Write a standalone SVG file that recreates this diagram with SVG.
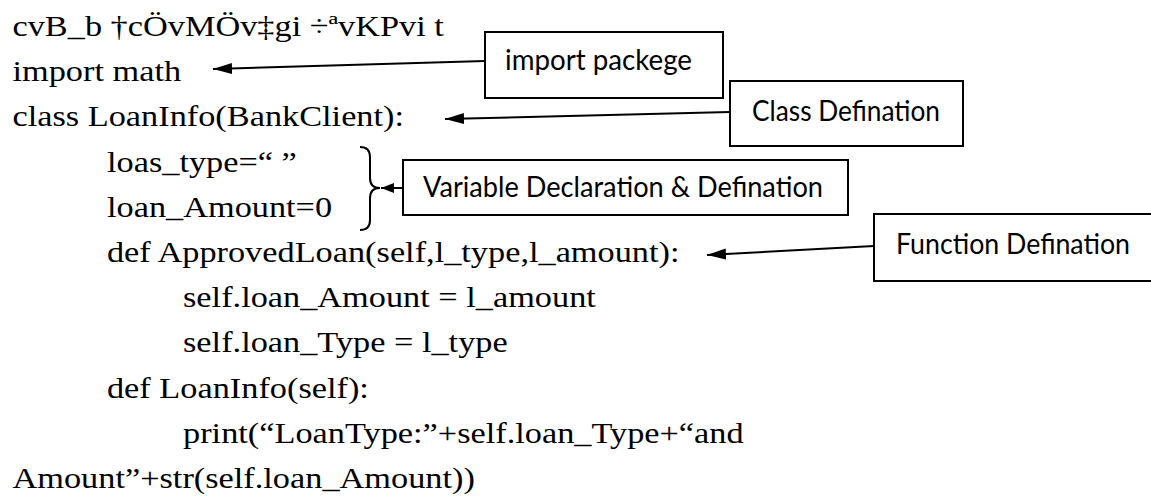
<svg xmlns="http://www.w3.org/2000/svg" width="1151" height="503" viewBox="0 0 1151 503">
<style>
.code{font-family:"Liberation Serif","Times New Roman",serif;font-size:30.5px;fill:#000}
.lbl{font-family:Lato,"Liberation Sans",sans-serif;font-size:29px;fill:#000}
.box{fill:#fff;stroke:#000;stroke-width:2}
.con{fill:none;stroke:#000;stroke-width:2}
</style>
<defs>
<marker id="ah" markerUnits="userSpaceOnUse" markerWidth="20" markerHeight="12" refX="19" refY="5.5" orient="auto">
<path d="M0,0 L19,5.5 L0,11 z" fill="#000"/>
</marker>
<marker id="ahs" markerUnits="userSpaceOnUse" markerWidth="14" markerHeight="12" refX="13" refY="5" orient="auto">
<path d="M0,0 L13,5 L0,10 z" fill="#000"/>
</marker>
</defs>
<rect width="1151" height="503" fill="#fff"/>
<g id="code" transform="scale(1.125 1)">
<text class="code" x="11.1" y="36">cvB_b †cÖvMÖv‡gi ÷ªvKPvi t</text>
<text class="code" x="11.1" y="81.2">import math</text>
<text class="code" x="11.1" y="126.4">class LoanInfo(BankClient):</text>
<text class="code" x="95.1" y="171.6">loas_type=“ ”</text>
<text class="code" x="95.1" y="216.8">loan_Amount=0</text>
<text class="code" x="95.1" y="262">def ApprovedLoan(self,l_type,l_amount):</text>
<text class="code" x="162.7" y="307.2">self.loan_Amount = l_amount</text>
<text class="code" x="162.7" y="352.4">self.loan_Type = l_type</text>
<text class="code" x="95.1" y="397.6">def LoanInfo(self):</text>
<text class="code" x="162.7" y="442.8">print(“LoanType:”+self.loan_Type+“and</text>
<text class="code" x="11.1" y="488">Amount”+str(self.loan_Amount))</text>
</g>
<g id="brace">
<path class="con" d="M360,147 Q370,147 370,157 L370,178 Q370,188 380,188 Q370,188 370,198 L370,220 Q370,230 360,230"/>
</g>
<g id="connectors">
<path class="con" d="M485,61 L213,69" marker-end="url(#ah)"/>
<path class="con" d="M730,112 L445,119" marker-end="url(#ah)"/>
<path class="con" d="M403,188 L381,188" marker-end="url(#ahs)"/>
<path class="con" d="M874,246 L707,255" marker-end="url(#ah)"/>
</g>
<g id="node-import">
<rect class="box" x="485" y="32" width="238" height="66"/>
<text class="lbl" x="505" y="70" textLength="187" lengthAdjust="spacingAndGlyphs">import packege</text>
</g>
<g id="node-class">
<rect class="box" x="730" y="81" width="233" height="65"/>
<text class="lbl" x="752" y="121" textLength="188" lengthAdjust="spacingAndGlyphs">Class Defination</text>
</g>
<g id="node-variable">
<rect class="box" x="403" y="160" width="445" height="55"/>
<text class="lbl" x="423" y="197" textLength="400" lengthAdjust="spacingAndGlyphs">Variable Declaration &amp; Defination</text>
</g>
<g id="node-function">
<rect class="box" x="874" y="214" width="280" height="67"/>
<text class="lbl" x="896" y="254" textLength="234" lengthAdjust="spacingAndGlyphs">Function Defination</text>
</g>
</svg>
